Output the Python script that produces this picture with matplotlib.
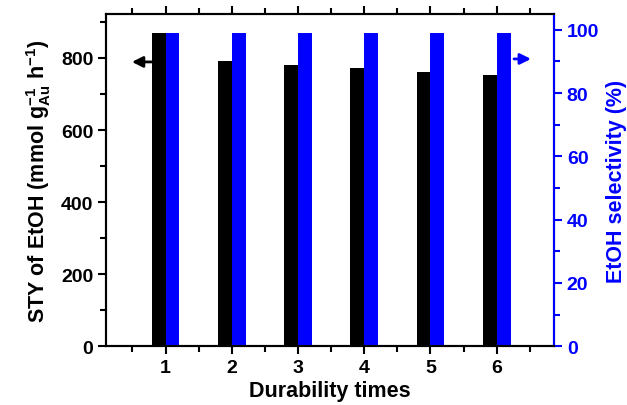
import numpy as np
import matplotlib
matplotlib.use('Agg')
import matplotlib.pyplot as plt
from matplotlib.ticker import MultipleLocator

plt.rcParams['font.family'] = 'Liberation Sans'
plt.rcParams['font.weight'] = 'bold'
plt.rcParams['mathtext.fontset'] = 'custom'
plt.rcParams['mathtext.rm'] = 'Liberation Sans:bold'
plt.rcParams['mathtext.bf'] = 'Liberation Sans:bold'
plt.rcParams['mathtext.default'] = 'bf'

runs = [1, 2, 3, 4, 5, 6]
sty = [870, 791, 781, 772, 761, 752]
selectivity = [99, 99, 99, 99, 99, 99]

blue = '#0000ff'
w = 0.21
x = np.array(runs)

fig = plt.figure(figsize=(6.27, 4.06), dpi=100)
ax = fig.add_axes([0.169, 0.145, 0.715, 0.818])
ax2 = ax.twinx()

ax.bar(x - w / 2, sty, width=w, color='black')
ax2.bar(x + w / 2, selectivity, width=w, color=blue)

ax.set_xlim(0.1, 6.87)
ax.set_ylim(0, 922)
ax2.set_ylim(0, 105)

ax.set_xticks(runs)
ax.set_xticks([0.5, 1.5, 2.5, 3.5, 4.5, 5.5, 6.5], minor=True)
ax.yaxis.set_major_locator(MultipleLocator(200))
ax.yaxis.set_minor_locator(MultipleLocator(100))
ax2.yaxis.set_major_locator(MultipleLocator(20))
ax2.yaxis.set_minor_locator(MultipleLocator(10))

for a in (ax, ax2):
    for s in a.spines.values():
        s.set_linewidth(1.5)
ax2.spines['right'].set_color(blue)

ax.tick_params(axis='both', which='both', direction='out', width=1.5, labelsize=14, pad=3)
ax.tick_params(which='major', length=6)
ax.tick_params(which='minor', length=4)
ax.tick_params(axis='x', which='both', top=True)
ax2.tick_params(axis='y', which='both', direction='out', width=1.5, colors=blue, labelsize=14, pad=3)
ax2.tick_params(which='major', length=6)
ax2.tick_params(which='minor', length=4)

ax.set_xlabel('Durability times', fontsize=15.5, fontweight='bold', labelpad=3)
ax.set_ylabel(r'STY of EtOH (mmol g$_{Au}^{-1}$ h$^{-1}$)', fontsize=15.5, fontweight='bold', labelpad=6)
ax2.set_ylabel('EtOH selectivity (%)', fontsize=15.5, fontweight='bold', color=blue, labelpad=5)

ax.annotate('', xy=(0.45, 789), xytext=(0.84, 789),
            arrowprops=dict(arrowstyle='-|>', color='black', lw=2, mutation_scale=16))
ax2.annotate('', xy=(6.56, 90.8), xytext=(6.22, 90.8),
             arrowprops=dict(arrowstyle='-|>', color=blue, lw=2, mutation_scale=16))

fig.savefig('out.png', dpi=100)
